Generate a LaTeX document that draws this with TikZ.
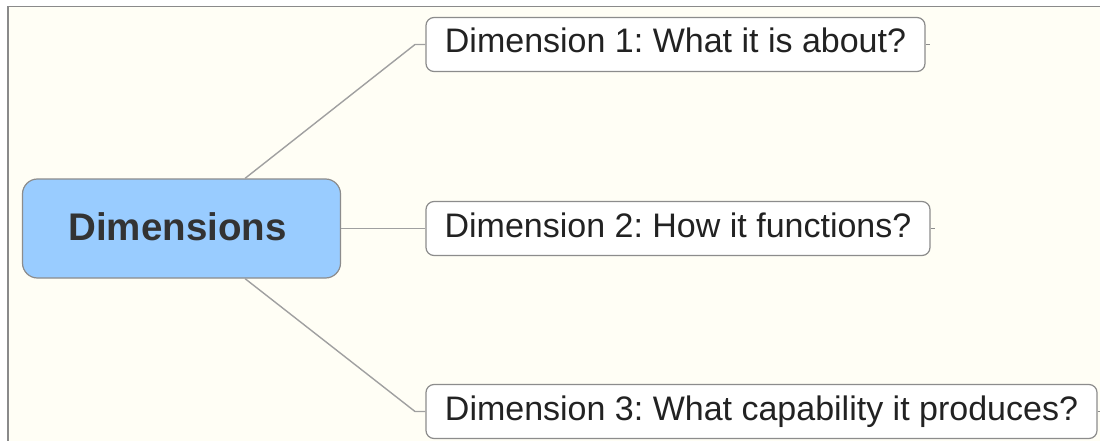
\documentclass[tikz,border=0pt]{standalone}
\usepackage{fontspec}
\setmainfont{Liberation Sans}
\frenchspacing
\usetikzlibrary{calc}
\definecolor{bgc}{HTML}{FFFEF5}
\definecolor{framec}{HTML}{8A8A8A}
\definecolor{linec}{HTML}{A0A0A0}
\definecolor{boxc}{HTML}{8C8C8C}
\definecolor{centc}{HTML}{99CCFF}
\definecolor{txtc}{HTML}{222222}
\definecolor{ctxtc}{HTML}{333333}
\tikzset{
  centralbox/.style={draw=boxc, line width=1.2pt, fill=centc, rounded corners=15pt,
    minimum width=318pt, minimum height=99pt, inner sep=0pt},
  centraltext/.style={font=\fontsize{38.5}{44}\selectfont\bfseries, text=ctxtc,
    inner sep=0pt, text height=27.5pt, text depth=4.5pt},
  topicbox/.style={draw=boxc, line width=1.2pt, fill=white, rounded corners=8pt,
    minimum height=54pt, inner sep=0pt,
    font=\fontsize{34}{40}\selectfont, text=txtc,
    text height=24pt, text depth=7pt},
  conn/.style={draw=linec, line width=1.4pt},
  stub/.style={draw=boxc, line width=1.2pt}
}
\begin{document}
\begin{tikzpicture}[x=1pt,y=-1pt]
\useasboundingbox (0,0) rectangle (1100,441);
\fill[white] (0,0) rectangle (1100,441);
\fill[bgc] (8,6.5) rectangle (1100,441);
\draw[framec, line width=1.5pt] (8,441) -- (8,6.5) -- (1100,6.5);

\node[centralbox] (c) at (181.5,228.5) {};
\node[centraltext] (ct) at (177.5,228.5) {Dimensions};
\node[topicbox, minimum width=499pt] (n1) at (675.5,44.5) {Dimension 1: What it is about?};
\node[topicbox, minimum width=504pt] (n2) at (678,228.5) {Dimension 2: How it functions?};
\node[topicbox, minimum width=671pt] (n3) at (761.5,411.5) {Dimension 3: What capability it produces?};

\coordinate (k1) at (415,44.5);
\coordinate (k3) at (415,411.5);
\coordinate (s1) at (930,44.5);
\coordinate (s2) at (935,228.5);
\coordinate (s3) at (1100,411.5);

\draw[conn] ($(c.north)+(63.5,0)$) -- (k1) -- (n1.west);
\draw[conn] (c.east) -- (n2.west);
\draw[conn] ($(c.south)+(63.5,0)$) -- (k3) -- (n3.west);
\draw[stub] (n1.east) -- (s1);
\draw[stub] (n2.east) -- (s2);
\draw[stub] (n3.east) -- (s3);
\end{tikzpicture}
\end{document}
